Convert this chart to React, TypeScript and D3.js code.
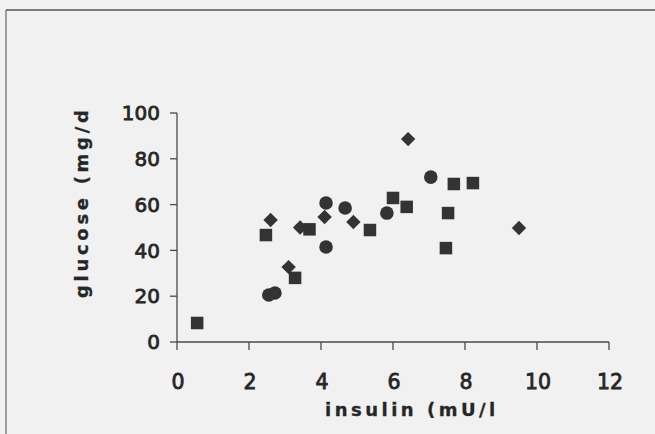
import React from "react";
import * as d3 from "d3";

const xTicks = [0, 2, 4, 6, 8, 10, 12];
const yTicks = [0, 20, 40, 60, 80, 100];

const diamondX = [2.6, 3.1, 3.42, 4.1, 4.9, 6.42, 9.5];
const diamondY = [53.3, 32.7, 50, 54.6, 52.4, 88.6, 49.8];

const squareX = [0.56, 2.47, 3.28, 3.68, 5.36, 6.0, 6.38, 7.53, 7.47, 7.69, 8.22];
const squareY = [8.3, 46.7, 28, 49.2, 48.9, 62.9, 59, 56.3, 41, 69, 69.4];

const circleX = [2.55, 2.72, 4.14, 4.14, 4.67, 5.83, 7.05];
const circleY = [20.5, 21.4, 60.7, 41.5, 58.5, 56.3, 72];

const xTitle = "insulin (mU/l";
const yTitle = "glucose (mg/d";

export default function App() {
  const W = 655;
  const H = 434;
  const x = d3.scaleLinear().domain([0, 12]).range([177, 609]);
  const y = d3.scaleLinear().domain([0, 100]).range([342, 113]);
  const ink = "#333";
  const axisInk = "#4a4a4a";
  const font = "'DejaVu Sans', Verdana, sans-serif";

  const sq = 12.5;
  const cr = 6.8;
  const dd = 7.2;

  return (
    <svg
      width={W}
      height={H}
      style={{ position: "absolute", left: 0, top: 0, display: "block" }}
      fontFamily={font}
    >
      <rect x={0} y={0} width={W} height={H} fill="#f1f1f1" />
      {/* scan frame */}
      <line x1={6} y1={10} x2={W} y2={10} stroke="#555" strokeWidth={1.5} />
      <line x1={6} y1={10} x2={6} y2={H} stroke="#666" strokeWidth={1.2} />

      {/* y axis */}
      <line x1={x(0)} y1={y(100)} x2={x(0)} y2={y(0)} stroke={axisInk} strokeWidth={1.3} />
      {yTicks.map((t) => (
        <g key={"yt" + t}>
          <line x1={x(0) - 7} x2={x(0)} y1={y(t)} y2={y(t)} stroke={axisInk} strokeWidth={1.3} />
          <text
            x={160}
            y={y(t)}
            dy="0.36em"
            textAnchor="end"
            fontSize={20}
            fill="#262626"
            stroke="#262626"
            strokeWidth={0.8}
          >
            {t}
          </text>
        </g>
      ))}

      {/* x axis */}
      <line x1={x(0)} y1={y(0)} x2={x(12)} y2={y(0)} stroke={axisInk} strokeWidth={1.3} />
      {xTicks.map((t) => (
        <g key={"xt" + t}>
          <line x1={x(t)} x2={x(t)} y1={y(0)} y2={y(0) + 8} stroke={axisInk} strokeWidth={1.3} />
          <text
            x={x(t) + 1}
            y={389}
            textAnchor="middle"
            fontSize={20.5}
            fill="#262626"
            stroke="#262626"
            strokeWidth={0.8}
          >
            {t}
          </text>
        </g>
      ))}

      {/* titles */}
      <text
        x={325}
        y={416}
        fontSize={18}
        fontWeight="bold"
        letterSpacing={3.5}
        fill="#262626"
        stroke="#262626"
        strokeWidth={0.3}
      >
        {xTitle}
      </text>
      <text
        transform={`translate(88, 298) rotate(-90)`}
        x={0}
        y={0}
        fontSize={18}
        fontWeight="bold"
        letterSpacing={3.7}
        fill="#262626"
        stroke="#262626"
        strokeWidth={0.3}
      >
        {yTitle}
      </text>

      {/* series: circles */}
      {circleX.map((v, i) => (
        <circle key={"c" + i} cx={x(v)} cy={y(circleY[i])} r={cr} fill={ink} />
      ))}
      {/* series: squares */}
      {squareX.map((v, i) => (
        <rect
          key={"s" + i}
          x={x(v) - sq / 2}
          y={y(squareY[i]) - sq / 2}
          width={sq}
          height={sq}
          fill={ink}
        />
      ))}
      {/* series: diamonds */}
      {diamondX.map((v, i) => {
        const cx = x(v);
        const cy = y(diamondY[i]);
        return (
          <path
            key={"d" + i}
            d={`M${cx},${cy - dd}L${cx + dd},${cy}L${cx},${cy + dd}L${cx - dd},${cy}Z`}
            fill={ink}
          />
        );
      })}
    </svg>
  );
}
